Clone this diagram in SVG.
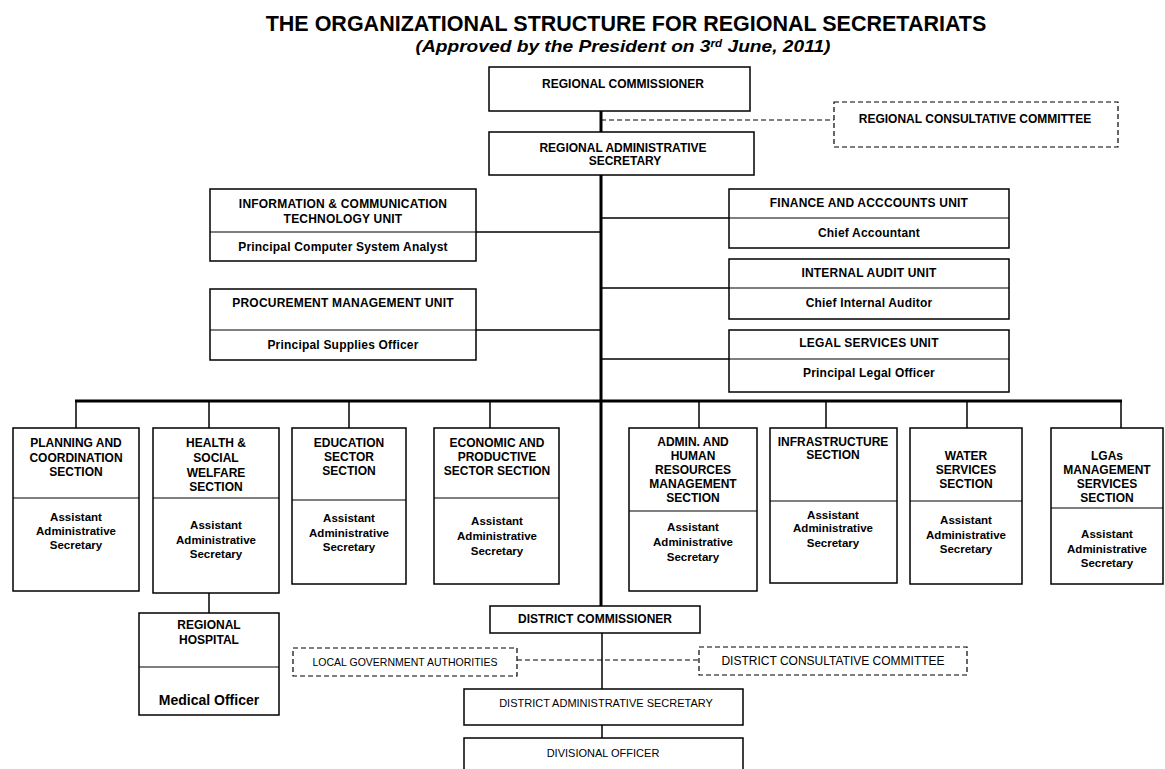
<svg xmlns="http://www.w3.org/2000/svg" width="1165" height="769" viewBox="0 0 1165 769">
<style>
text{font-family:"Liberation Sans",Arial,sans-serif;fill:#000;text-anchor:middle}
.t{font-size:21.5px;font-weight:bold}
.st{font-size:16.5px;font-weight:bold;font-style:italic}
.b{fill:#fff;stroke:#000;stroke-width:1.5}
.d{fill:#fff;stroke:#000;stroke-width:1.2;stroke-dasharray:5 3}
.dv{stroke:#000;stroke-width:1.2}
.h{font-size:12px;font-weight:bold}
.u{font-size:12px;font-weight:bold;letter-spacing:0.2px}
.s{font-size:12px;font-weight:bold}
.sb{font-size:11.5px;font-weight:bold}
.r{font-size:11px}
.ln{stroke:#000;fill:none;stroke-width:1.5}
.thick{stroke:#000;fill:none;stroke-width:3}
.dash{stroke:#000;fill:none;stroke-width:1.2;stroke-dasharray:5 3}
</style>
<rect width="1165" height="769" fill="#fff"/>
<text class="t" x="626" y="31">THE ORGANIZATIONAL STRUCTURE FOR REGIONAL SECRETARIATS</text>
<text class="st" x="623" y="52" textLength="415" lengthAdjust="spacingAndGlyphs">(Approved by the President on 3<tspan font-size="10" dy="-5">rd</tspan><tspan dy="5"> June, 2011)</tspan></text>

<g id="connectors">
<line class="thick" x1="601" y1="111" x2="601" y2="132"/>
<line class="thick" x1="601" y1="175" x2="601" y2="606"/>
<line class="dash" x1="601" y1="120" x2="834" y2="120"/>
<line class="ln" x1="476" y1="232" x2="601" y2="232"/>
<line class="ln" x1="476" y1="330" x2="601" y2="330"/>
<line class="ln" x1="601" y1="218" x2="729" y2="218"/>
<line class="ln" x1="601" y1="288" x2="729" y2="288"/>
<line class="ln" x1="601" y1="359" x2="729" y2="359"/>
<line class="thick" x1="75" y1="401" x2="1122" y2="401"/>
<line class="ln" x1="76" y1="401" x2="76" y2="428"/>
<line class="ln" x1="209" y1="401" x2="209" y2="428"/>
<line class="ln" x1="349" y1="401" x2="349" y2="428"/>
<line class="ln" x1="490" y1="401" x2="490" y2="428"/>
<line class="ln" x1="699" y1="401" x2="699" y2="428"/>
<line class="ln" x1="826" y1="401" x2="826" y2="428"/>
<line class="ln" x1="967" y1="401" x2="967" y2="428"/>
<line class="ln" x1="1121" y1="401" x2="1121" y2="428"/>
<line class="ln" x1="209" y1="593" x2="209" y2="613"/>
<line class="ln" x1="602" y1="633" x2="602" y2="689"/>
<line class="ln" x1="602" y1="725" x2="602" y2="738"/>
<line class="dash" x1="517" y1="660" x2="699" y2="660"/>
</g>

<g id="regional-commissioner">
<rect class="b" x="489" y="67" width="261" height="44"/>
<text class="h" x="623" y="88">REGIONAL COMMISSIONER</text>
</g>
<g id="regional-consultative-committee">
<rect class="d" x="834" y="102" width="284" height="45"/>
<text class="h" x="975" y="123">REGIONAL CONSULTATIVE COMMITTEE</text>
</g>
<g id="regional-administrative-secretary">
<rect class="b" x="489" y="132" width="265" height="43"/>
<text class="h" x="623" y="152">REGIONAL ADMINISTRATIVE</text>
<text class="h" x="625" y="165">SECRETARY</text>
</g>

<g id="ict-unit">
<rect class="b" x="210" y="189" width="266" height="72"/>
<line class="dv" x1="210" y1="232" x2="476" y2="232"/>
<text class="u" x="343" y="208">INFORMATION &amp; COMMUNICATION</text>
<text class="u" x="343" y="223">TECHNOLOGY UNIT</text>
<text class="u" x="343" y="251">Principal Computer System Analyst</text>
</g>
<g id="procurement-unit">
<rect class="b" x="210" y="289" width="266" height="71"/>
<line class="dv" x1="210" y1="330" x2="476" y2="330"/>
<text class="u" x="343" y="307">PROCUREMENT MANAGEMENT UNIT</text>
<text class="u" x="343" y="349">Principal Supplies Officer</text>
</g>
<g id="finance-unit">
<rect class="b" x="729" y="189" width="280" height="59"/>
<line class="dv" x1="729" y1="218" x2="1009" y2="218"/>
<text class="u" x="869" y="207">FINANCE AND ACCCOUNTS UNIT</text>
<text class="u" x="869" y="237">Chief Accountant</text>
</g>
<g id="audit-unit">
<rect class="b" x="729" y="259" width="280" height="60"/>
<line class="dv" x1="729" y1="288" x2="1009" y2="288"/>
<text class="u" x="869" y="277">INTERNAL AUDIT UNIT</text>
<text class="u" x="869" y="307">Chief Internal Auditor</text>
</g>
<g id="legal-unit">
<rect class="b" x="729" y="330" width="280" height="62"/>
<line class="dv" x1="729" y1="359" x2="1009" y2="359"/>
<text class="u" x="869" y="347">LEGAL SERVICES UNIT</text>
<text class="u" x="869" y="377">Principal Legal Officer</text>
</g>

<g id="planning-section">
<rect class="b" x="13" y="428" width="126" height="163"/>
<line class="dv" x1="13" y1="498" x2="139" y2="498"/>
<text class="s" x="76" y="447">PLANNING AND</text>
<text class="s" x="76" y="462">COORDINATION</text>
<text class="s" x="76" y="476">SECTION</text>
<text class="sb" x="76" y="521">Assistant</text>
<text class="sb" x="76" y="535">Administrative</text>
<text class="sb" x="76" y="549">Secretary</text>
</g>
<g id="health-section">
<rect class="b" x="153" y="428" width="126" height="165"/>
<line class="dv" x1="153" y1="498" x2="279" y2="498"/>
<text class="s" x="216" y="447">HEALTH &amp;</text>
<text class="s" x="216" y="462">SOCIAL</text>
<text class="s" x="216" y="477">WELFARE</text>
<text class="s" x="216" y="491">SECTION</text>
<text class="sb" x="216" y="529">Assistant</text>
<text class="sb" x="216" y="544">Administrative</text>
<text class="sb" x="216" y="558">Secretary</text>
</g>
<g id="education-section">
<rect class="b" x="292" y="428" width="114" height="156"/>
<line class="dv" x1="292" y1="500" x2="406" y2="500"/>
<text class="s" x="349" y="447">EDUCATION</text>
<text class="s" x="349" y="461">SECTOR</text>
<text class="s" x="349" y="475">SECTION</text>
<text class="sb" x="349" y="522">Assistant</text>
<text class="sb" x="349" y="537">Administrative</text>
<text class="sb" x="349" y="551">Secretary</text>
</g>
<g id="economic-section">
<rect class="b" x="434" y="428" width="125" height="156"/>
<line class="dv" x1="434" y1="498" x2="559" y2="498"/>
<text class="s" x="497" y="447">ECONOMIC AND</text>
<text class="s" x="497" y="461">PRODUCTIVE</text>
<text class="s" x="497" y="475">SECTOR SECTION</text>
<text class="sb" x="497" y="525">Assistant</text>
<text class="sb" x="497" y="540">Administrative</text>
<text class="sb" x="497" y="555">Secretary</text>
</g>
<g id="admin-hr-section">
<rect class="b" x="629" y="428" width="128" height="163"/>
<line class="dv" x1="629" y1="511" x2="757" y2="511"/>
<text class="s" x="693" y="446">ADMIN. AND</text>
<text class="s" x="693" y="460">HUMAN</text>
<text class="s" x="693" y="474">RESOURCES</text>
<text class="s" x="693" y="488">MANAGEMENT</text>
<text class="s" x="693" y="502">SECTION</text>
<text class="sb" x="693" y="531">Assistant</text>
<text class="sb" x="693" y="546">Administrative</text>
<text class="sb" x="693" y="561">Secretary</text>
</g>
<g id="infrastructure-section">
<rect class="b" x="770" y="428" width="127" height="155"/>
<line class="dv" x1="770" y1="501" x2="897" y2="501"/>
<text class="s" x="833" y="446">INFRASTRUCTURE</text>
<text class="s" x="833" y="459">SECTION</text>
<text class="sb" x="833" y="519">Assistant</text>
<text class="sb" x="833" y="532">Administrative</text>
<text class="sb" x="833" y="547">Secretary</text>
</g>
<g id="water-section">
<rect class="b" x="910" y="428" width="112" height="156"/>
<line class="dv" x1="910" y1="501" x2="1022" y2="501"/>
<text class="s" x="966" y="460">WATER</text>
<text class="s" x="966" y="474">SERVICES</text>
<text class="s" x="966" y="488">SECTION</text>
<text class="sb" x="966" y="524">Assistant</text>
<text class="sb" x="966" y="539">Administrative</text>
<text class="sb" x="966" y="553">Secretary</text>
</g>
<g id="lgas-section">
<rect class="b" x="1051" y="428" width="112" height="156"/>
<line class="dv" x1="1051" y1="508" x2="1163" y2="508"/>
<text class="s" x="1107" y="460">LGAs</text>
<text class="s" x="1107" y="474">MANAGEMENT</text>
<text class="s" x="1107" y="488">SERVICES</text>
<text class="s" x="1107" y="502">SECTION</text>
<text class="sb" x="1107" y="538">Assistant</text>
<text class="sb" x="1107" y="553">Administrative</text>
<text class="sb" x="1107" y="567">Secretary</text>
</g>

<g id="regional-hospital">
<rect class="b" x="139" y="613" width="140" height="102"/>
<line class="dv" x1="139" y1="667" x2="279" y2="667"/>
<text class="s" x="209" y="629">REGIONAL</text>
<text class="s" x="209" y="644">HOSPITAL</text>
<text x="209" y="705" style="font-size:14px;font-weight:bold">Medical Officer</text>
</g>
<g id="district-commissioner">
<rect class="b" x="490" y="606" width="210" height="27"/>
<text class="h" x="595" y="623">DISTRICT COMMISSIONER</text>
</g>
<g id="local-government-authorities">
<rect class="d" x="293" y="648" width="224" height="28"/>
<text class="r" x="405" y="666" style="font-size:10.5px">LOCAL GOVERNMENT AUTHORITIES</text>
</g>
<g id="district-consultative-committee">
<rect class="d" x="699" y="647" width="268" height="28"/>
<text class="r" x="833" y="665" style="font-size:12px">DISTRICT CONSULTATIVE COMMITTEE</text>
</g>
<g id="district-administrative-secretary">
<rect class="b" x="464" y="689" width="279" height="36"/>
<text class="r" x="606" y="707">DISTRICT ADMINISTRATIVE SECRETARY</text>
</g>
<g id="divisional-officer">
<rect class="b" x="464" y="738" width="279" height="40"/>
<text class="r" x="603" y="757">DIVISIONAL OFFICER</text>
</g>
</svg>
